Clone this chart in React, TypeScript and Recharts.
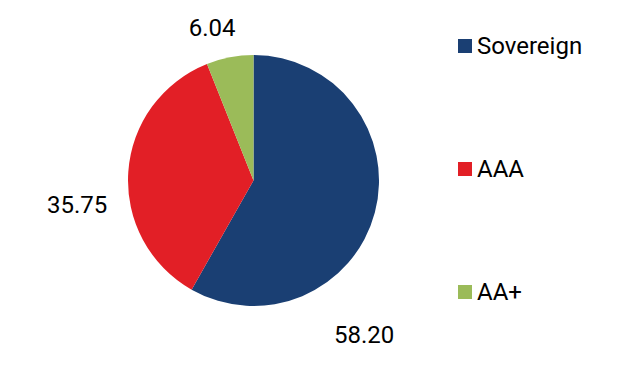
import { PieChart, Pie, Cell, Legend } from "recharts";

const ratings = ["Sovereign", "AAA", "AA+"];
const shares = [58.2, 35.75, 6.04];
const colors = ["#1a3f73", "#e21f26", "#9bbb59"];

// where each value label sits (polar: degrees, px from the centre)
const labelSpots = [
  { angle: -54.4, dist: 190 },
  { angle: -172.1, dist: 178 },
  { angle: 105.2, dist: 158 },
];

const data = ratings.map((name, i) => ({ name, value: shares[i] }));

const RAD = Math.PI / 180;

function ValueLabel(props: any) {
  const { cx, cy, index, value } = props;
  const spot = labelSpots[index];
  const x = cx + spot.dist * Math.cos(spot.angle * RAD);
  const y = cy - spot.dist * Math.sin(spot.angle * RAD);
  return (
    <text
      x={x}
      y={y}
      textAnchor="middle"
      dominantBaseline="central"
      fill="#000"
      fontSize={24}
      fontFamily="Roboto"
    >
      {value.toFixed(2)}
    </text>
  );
}

function SideLegend() {
  return (
    <div style={{ fontFamily: "Roboto", fontSize: 24, color: "#000" }}>
      {data.map((d, i) => (
        <div
          key={d.name}
          style={{ display: "flex", alignItems: "center", height: 28, marginBottom: i < data.length - 1 ? 95 : 0 }}
        >
          <span style={{ display: "inline-block", width: 14, height: 14, background: colors[i], marginRight: 5 }} />
          <span>{d.name}</span>
        </div>
      ))}
    </div>
  );
}

export default function App() {
  return (
    <div style={{ position: "absolute", left: 0, top: 0, background: "#fff" }}>
      <PieChart width={618} height={380} margin={{ top: 0, right: 0, bottom: 0, left: 0 }}>
        <Pie
          data={data}
          dataKey="value"
          nameKey="name"
          cx={253.5}
          cy={180.5}
          outerRadius={125.5}
          startAngle={90}
          endAngle={-270}
          stroke="none"
          label={ValueLabel}
          labelLine={false}
          isAnimationActive={false}
        >
          {data.map((d, i) => (
            <Cell key={d.name} fill={colors[i]} />
          ))}
        </Pie>
        <Legend
          layout="vertical"
          verticalAlign="top"
          align="right"
          content={<SideLegend />}
          wrapperStyle={{ left: 458, top: 32, width: 160 }}
        />
      </PieChart>
    </div>
  );
}
